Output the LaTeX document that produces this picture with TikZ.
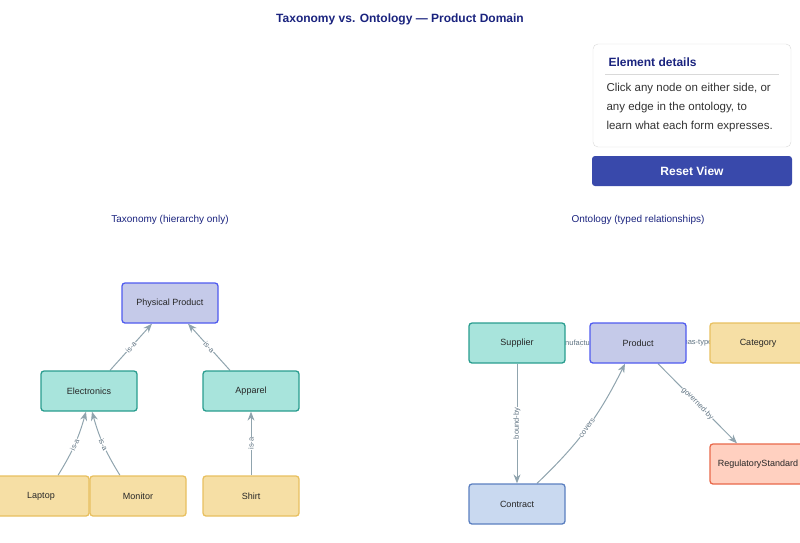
\documentclass[tikz,border=0pt]{standalone}
\usepackage{fontspec}
\setmainfont{Liberation Sans}
\usetikzlibrary{arrows.meta,backgrounds}
\definecolor{navy}{HTML}{1A237E}
\definecolor{edgegrey}{HTML}{90A4AE}
\definecolor{labgrey}{HTML}{5F7382}
\definecolor{topline}{HTML}{4F5BEF}\definecolor{topfill}{HTML}{C5CAE9}
\definecolor{midline}{HTML}{2A9D8F}\definecolor{midfill}{HTML}{A8E4DC}
\definecolor{leafline}{HTML}{E8C060}\definecolor{leaffill}{HTML}{F6DFA5}
\definecolor{dealline}{HTML}{5B7FC0}\definecolor{dealfill}{HTML}{C9D9F0}
\definecolor{ruleline}{HTML}{E8684A}\definecolor{rulefill}{HTML}{FFD0C0}
\definecolor{button}{HTML}{3949AB}
\tikzset{
  box/.style={rounded corners=3pt,line width=1.3pt,minimum width=96pt,minimum height=40pt,
    inner sep=0pt,font=\fontsize{9}{11}\selectfont,text=black!85},
  top/.style={box,draw=topline,fill=topfill},
  mid/.style={box,draw=midline,fill=midfill},
  leaf/.style={box,draw=leafline,fill=leaffill},
  deal/.style={box,draw=dealline,fill=dealfill},
  rule/.style={box,draw=ruleline,fill=rulefill},
  rel/.style={draw=edgegrey,line width=1pt,-{Stealth[length=9pt,width=7pt]}},
  lab/.style={sloped,fill=white,inner sep=0.5pt,text=labgrey,font=\fontsize{7.5}{8}\selectfont},
  uplab/.style={lab,sloped=false,rotate=90}
}
\begin{document}
\begin{tikzpicture}[x=1pt,y=-1pt]
	\useasboundingbox (0,0) rectangle (800,542);
	
	\node (title) at (400,19) [text=navy,font=\bfseries\fontsize{12}{14}\selectfont] {Taxonomy vs. Ontology — Product Domain};
	\node (taxhead) at (170,220) [text=navy,font=\fontsize{10}{12}\selectfont] {Taxonomy (hierarchy only)};
	\node (onthead) at (638,220) [text=navy,font=\fontsize{10}{12}\selectfont] {Ontology (typed relationships)};
	
	% details panel
	\node (panel) at (692,95.5) [draw=black!15,rounded corners=5pt,minimum width=198pt,minimum height=103pt] {};
	\node (panelhead) at (605,62) [anchor=west,text=navy,font=\bfseries\fontsize{12}{14}\selectfont] {Element details};
	\draw [draw=black!15] (605,74) -- (779,74);
	\node (paneltext) at (603,108) [anchor=west,align=left,text=black!80,font=\fontsize{11.5}{19}\selectfont] {Click any node on either side, or\\any edge in the ontology, to\\learn what each form expresses.};
	\node (reset) at (692,171) [fill=button,rounded corners=3pt,minimum width=200pt,minimum height=30pt,text=white,font=\bfseries\fontsize{12}{14}\selectfont] {Reset View};
	
	% taxonomy
	\node (phys) at (170,303) [top] {Physical Product};
	\node (elec) at (89,391) [mid] {Electronics};
	\node (app) at (251,391) [mid] {Apparel};
	\node (lap) at (41,496) [leaf] {Laptop};
	\node (mon) at (138,496) [leaf] {Monitor};
	\node (shirt) at (251,496) [leaf] {Shirt};
	
	% ontology
	\node (sup) at (517,343) [mid] {Supplier};
	\node (prod) at (638,343) [top] {Product};
	\node (cat) at (758,343) [leaf] {Category};
	\node (reg) at (758,464) [rule] {RegulatoryStandard};
	\node (con) at (517,504) [deal] {Contract};
	
	\begin{pgfonlayer}{background}
	\draw [rel] ([xshift=21pt]elec.north) to node[lab] {is-a} ([xshift=-18pt]phys.south);
	\draw [rel] ([xshift=-21pt]app.north) to node[lab] {is-a} ([xshift=18pt]phys.south);
	\draw [rel] ([xshift=17pt]lap.north) to[bend right=8] node[lab] {is-a} ([xshift=-3pt]elec.south);
	\draw [rel] ([xshift=-18pt]mon.north) to[bend left=8] node[lab] {is-a} ([xshift=3pt]elec.south);
	\draw [rel] (shirt.north) to node[uplab] {is-a} (app.south);
	\draw [rel] (sup.east) to node[lab] {manufactures} (prod.west);
	\draw [rel] (prod.east) to node[lab] {has-type} (cat.west);
	\draw [rel] (sup.south) to node[uplab] {bound-by} (con.north);
	\draw [rel] ([xshift=20pt]con.north) to[bend right=10] node[lab] {covers} ([xshift=-13pt]prod.south);
	\draw [rel] ([xshift=20pt]prod.south) to node[lab] {governed-by} ([xshift=-21pt]reg.north);
	\end{pgfonlayer}
	
\end{tikzpicture}
\end{document}
